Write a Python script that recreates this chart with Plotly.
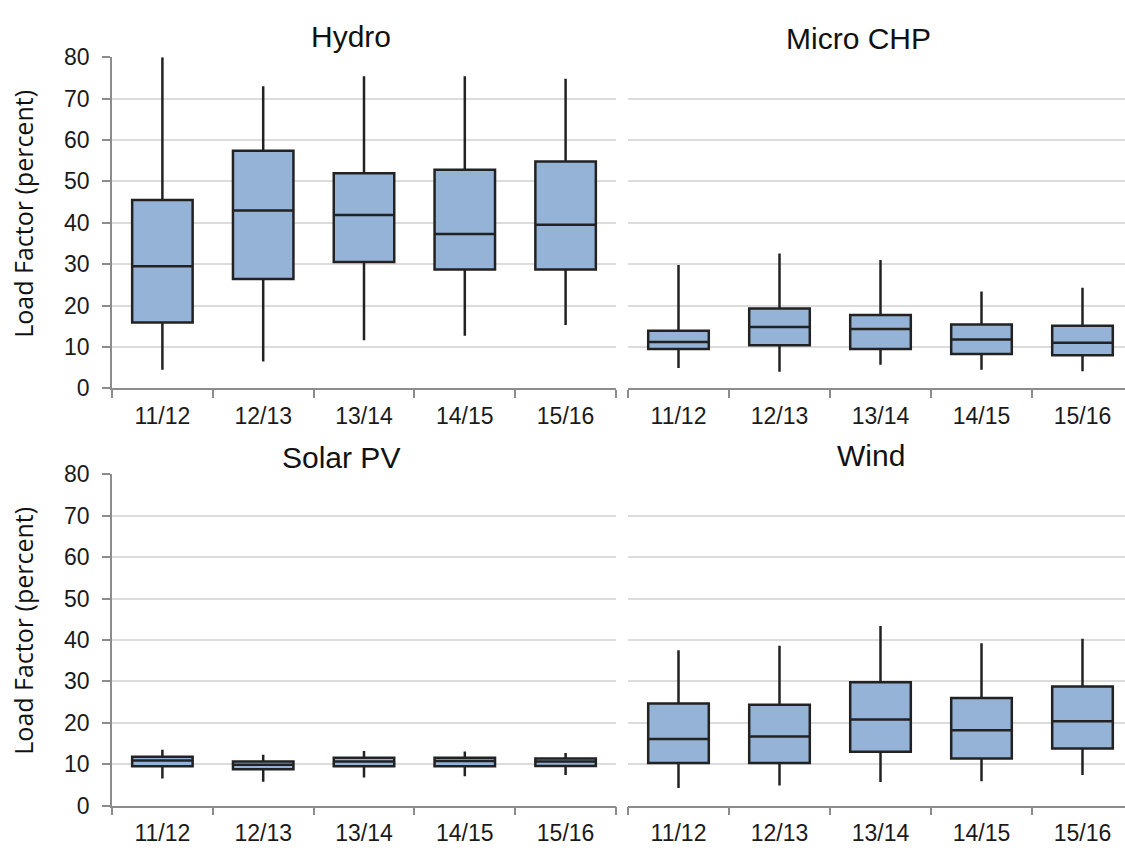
import plotly.graph_objects as go

years = ["11/12", "12/13", "13/14", "14/15", "15/16"]

# Hydro
hydro_low = [4.5, 6.5, 11.6, 12.7, 15.3]
hydro_q1 = [15.9, 26.4, 30.5, 28.7, 28.7]
hydro_med = [29.5, 43.0, 41.9, 37.3, 39.5]
hydro_q3 = [45.5, 57.4, 52.0, 52.8, 54.8]
hydro_high = [80.0, 73.0, 75.4, 75.4, 74.8]

# Micro CHP
chp_low = [4.9, 4.0, 5.7, 4.5, 4.1]
chp_q1 = [9.5, 10.4, 9.5, 8.3, 8.0]
chp_med = [11.2, 14.8, 14.3, 11.8, 11.0]
chp_q3 = [13.9, 19.3, 17.7, 15.4, 15.1]
chp_high = [29.8, 32.6, 31.0, 23.4, 24.3]

# Solar PV
solar_low = [6.6, 5.8, 6.8, 7.1, 7.4]
solar_q1 = [9.5, 8.8, 9.5, 9.5, 9.6]
solar_med = [10.9, 9.9, 10.7, 10.8, 10.7]
solar_q3 = [11.8, 10.7, 11.6, 11.6, 11.4]
solar_high = [13.5, 12.3, 13.2, 13.1, 12.7]

# Wind
wind_low = [4.3, 4.9, 5.7, 5.9, 7.4]
wind_q1 = [10.3, 10.3, 13.0, 11.4, 13.8]
wind_med = [16.1, 16.7, 20.8, 18.2, 20.4]
wind_q3 = [24.7, 24.4, 29.8, 26.0, 28.8]
wind_high = [37.5, 38.6, 43.4, 39.2, 40.3]

titles = ["Hydro", "Micro CHP", "Solar PV", "Wind"]
y_ticks = [0, 10, 20, 30, 40, 50, 60, 70, 80]

W, H = 1125, 858
FILL = "#95b3d7"
EDGE = "#222222"
AXIS = "#8c8c8c"
GRID = "#dcdcdc"
TICKFONT = dict(family="Liberation Sans, Arial, sans-serif", size=23, color="#1a1a1a")

panels = [
    (hydro_low, hydro_q1, hydro_med, hydro_q3, hydro_high),
    (chp_low, chp_q1, chp_med, chp_q3, chp_high),
    (solar_low, solar_q1, solar_med, solar_q3, solar_high),
    (wind_low, wind_q1, wind_med, wind_q3, wind_high),
]

# pixel layout -> paper domains
left_x = [112 / W, 616 / W]
right_x = [628 / W, 1.0]
top_y = [1 - 387 / H, 1 - 45.7 / H]
bot_y = [1 - 817.5 / H, 1 - 475.7 / H]
domains = [(left_x, top_y), (right_x, top_y), (left_x, bot_y), (right_x, bot_y)]

fig = go.Figure()
layout = {}
for i, ((lo, q1, med, q3, hi), (dx, dy)) in enumerate(zip(panels, domains)):
    n = "" if i == 0 else str(i + 1)
    fig.add_trace(go.Box(
        x=years, lowerfence=lo, q1=q1, median=med, q3=q3, upperfence=hi,
        fillcolor=FILL, line=dict(color=EDGE, width=2.5), whiskerwidth=0,
        width=0.6, boxpoints=False, showlegend=False, hoverinfo="skip",
        xaxis="x" + n, yaxis="y" + n,
    ))
    is_left = i in (0, 2)
    xr = [-0.5, 4.5] if is_left else [-0.5, 4.5 - 8 / 101]
    layout["xaxis" + n] = dict(
        domain=dx, anchor="y" + n, type="category", range=xr,
        tickson="boundaries", ticks="outside", ticklen=8, tickcolor=AXIS, tickwidth=1.5,
        showline=True, linecolor=AXIS, linewidth=1.5, showgrid=False,
        tickfont=TICKFONT, categoryorder="array", categoryarray=years,
        ticklabelstandoff=6, fixedrange=True,
    )
    layout["yaxis" + n] = dict(
        domain=dy, anchor="x" + n, range=[0, 80], tickvals=y_ticks,
        showgrid=True, gridcolor=GRID, gridwidth=1.5, zeroline=False,
        showline=is_left, linecolor=AXIS, linewidth=1.5,
        ticks="outside" if is_left else "", ticklen=8, tickcolor=AXIS, tickwidth=1.5,
        showticklabels=is_left, tickfont=TICKFONT, ticklabelstandoff=8,
        fixedrange=True,
    )

title_pos = [(351, 24), (858, 26), (341, 458), (871, 456)]
annotations = []
for t, (px, py) in zip(titles, title_pos):
    annotations.append(dict(
        text=t, x=px / W, y=1 - py / H, xref="paper", yref="paper",
        xanchor="center", yanchor="middle", showarrow=False,
        font=dict(family="Liberation Sans, Arial, sans-serif", size=30, color="#111111"),
    ))
for py in (207, 637):
    annotations.append(dict(
        text="Load Factor (percent)", x=23 / W, y=1 - py / H, xref="paper", yref="paper",
        xanchor="center", yanchor="middle", showarrow=False, textangle=-90,
        font=dict(family="Open Sans, sans-serif", size=25, color="#111111"),
    ))

fig.update_layout(
    width=W, height=H, margin=dict(l=0, r=0, t=0, b=0),
    paper_bgcolor="white", plot_bgcolor="white",
    annotations=annotations, **layout,
)

fig.write_html(
    "out.html",
    config={"displayModeBar": False},
    post_script="document.body.style.margin='0px';document.body.style.overflow='hidden';",
)
